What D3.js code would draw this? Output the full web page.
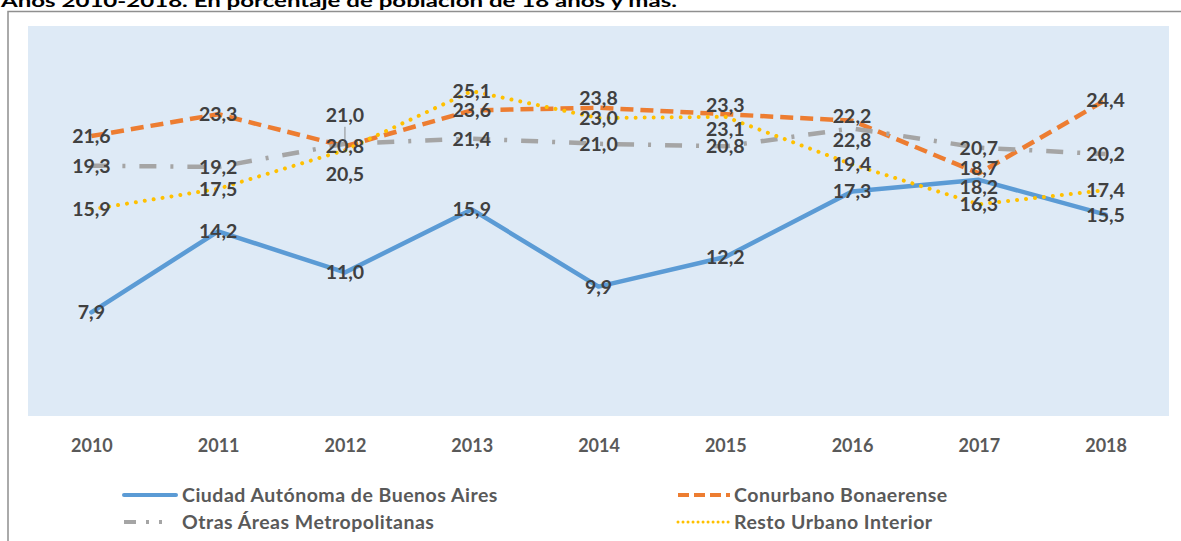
<!DOCTYPE html>
<html>
<head>
<meta charset="utf-8">
<script src="https://cdn.jsdelivr.net/npm/d3@7"></script>
<style>
  html, body { margin: 0; padding: 0; background: #ffffff; }
  svg { display: block; }
</style>
</head>
<body>
<svg id="chart" width="1181" height="541"></svg>
<script>
// ---------- data ----------
const years = ["2010", "2011", "2012", "2013", "2014", "2015", "2016", "2017", "2018"];
const seriesNames = ["Ciudad Autónoma de Buenos Aires", "Conurbano Bonaerense", "Otras Áreas Metropolitanas", "Resto Urbano Interior"];
const caba       = [7.9, 14.2, 11.0, 15.9, 9.9, 12.2, 17.3, 18.2, 15.5];
const conurbano  = [21.6, 23.3, 20.8, 23.6, 23.8, 23.3, 22.8, 18.7, 24.4];
const otras      = [19.3, 19.2, 21.0, 21.4, 21.0, 20.8, 22.2, 20.7, 20.2];
const resto      = [15.9, 17.5, 20.5, 25.1, 23.0, 23.1, 19.4, 16.3, 17.4];
const titleText = "Años 2010-2018. En porcentaje de población de 18 años y más.";

// label vertical nudges (px) per series, to mimic the reference placement
const labelNudgeCaba      = [0, 0, 0, 0, 0, 0, 0, 7, 0];
const labelNudgeConurbano = [0, 0, 0, 0, -10, -9, 19, -5, 0];
const labelNudgeOtras     = [0, 0, -29, 0, 0, 0, -12, 0, 0];
const labelNudgeResto     = [0, 0, 24, 0, 0, 12, 0, 0, 0];

// ---------- layout ----------
const svg = d3.select("#chart");
const plot = { left: 28, right: 1169, top: 26, bottom: 416 };

const x = d3.scalePoint().domain(years).range([plot.left, plot.right]).padding(0.5);
const y = d3.scaleLinear().domain([0, 30]).range([414, 28]);

const series = [
  { name: seriesNames[0], values: caba,      nudge: labelNudgeCaba,      color: "#5B9BD5", width: 4.5, dash: null,           cap: "round" },
  { name: seriesNames[1], values: conurbano, nudge: labelNudgeConurbano, color: "#ED7D31", width: 4.5, dash: "13,7",         cap: "butt" },
  { name: seriesNames[2], values: otras,     nudge: labelNudgeOtras,     color: "#A5A5A5", width: 4.5, dash: "17,14,3,14",   cap: "butt" },
  { name: seriesNames[3], values: resto,     nudge: labelNudgeResto,     color: "#FFC000", width: 4,   dash: "0.01,9",       cap: "round" }
];

// frame
svg.append("rect")
  .attr("x", 8).attr("y", 11.5).attr("width", 1200).attr("height", 600)
  .attr("fill", "none").attr("stroke", "#8f8f8f").attr("stroke-width", 1.5);

// title (clipped at top in the reference)
svg.append("text")
  .attr("x", 1).attr("y", 7)
  .attr("font-family", "Lato, 'Open Sans', sans-serif")
  .attr("font-weight", "bold").attr("font-size", 17)
  .attr("fill", "#000")
  .attr("textLength", 676).attr("lengthAdjust", "spacingAndGlyphs")
  .text(titleText);

// plot background
svg.append("rect")
  .attr("x", plot.left).attr("y", plot.top)
  .attr("width", plot.right - plot.left).attr("height", plot.bottom - plot.top)
  .attr("fill", "#DEEAF6");

// x axis labels
const xAxis = d3.axisBottom(x).tickSize(0).tickPadding(0);
const gx = svg.append("g").attr("transform", "translate(0,446)").call(xAxis);
gx.select(".domain").remove();
gx.selectAll("text")
  .attr("dy", "0.35em")
  .attr("font-family", "Lato, 'Open Sans', sans-serif")
  .attr("font-weight", "bold").attr("font-size", 18)
  .attr("fill", "#595959");

// lines
const line = d3.line().x((d, i) => x(years[i])).y(d => y(d));
series.forEach(s => {
  svg.append("path")
    .datum(s.values)
    .attr("d", line)
    .attr("fill", "none")
    .attr("stroke", s.color)
    .attr("stroke-width", s.width)
    .attr("stroke-linejoin", "round")
    .attr("stroke-linecap", s.cap)
    .attr("stroke-dasharray", s.dash);
});

// leader line for displaced label (Otras 2012)
series.forEach(s => {
  s.values.forEach((v, i) => {
    if (Math.abs(s.nudge[i]) > 25) {
      svg.append("line")
        .attr("x1", x(years[i])).attr("x2", x(years[i]))
        .attr("y1", y(v) + s.nudge[i] + 12).attr("y2", y(v) - 2)
        .attr("stroke", "#8c8c8c").attr("stroke-width", 1);
    }
  });
});

// data labels
const fmt = v => d3.format(".1f")(v).replace(".", ",");
series.forEach(s => {
  svg.append("g").selectAll("text")
    .data(s.values)
    .join("text")
    .attr("x", (d, i) => x(years[i]))
    .attr("y", (d, i) => y(d) + s.nudge[i])
    .attr("dy", "0.36em")
    .attr("text-anchor", "middle")
    .attr("font-family", "Lato, 'Open Sans', sans-serif")
    .attr("font-weight", "bold").attr("font-size", 19.5)
    .attr("fill", "#404040")
    .text(d => fmt(d));
});

// legend
const legendPos = [
  { lx: 124, ly: 495 }, { lx: 678, ly: 495 },
  { lx: 124, ly: 522 }, { lx: 678, ly: 522 }
];
series.forEach((s, i) => {
  const p = legendPos[i];
  const g = svg.append("g").attr("transform", `translate(${p.lx},${p.ly})`);
  const isOtras = i === 2;
  g.append("line")
    .attr("x1", 0).attr("x2", 52).attr("y1", 0).attr("y2", 0)
    .attr("stroke", s.color)
    .attr("stroke-width", i === 3 ? 3 : 4)
    .attr("stroke-linecap", s.cap)
    .attr("stroke-dasharray", isOtras ? "12,10,3,10,3,14" : (i === 1 ? "11,5" : (i === 3 ? "0.01,5" : null)));
  g.append("text")
    .attr("x", i % 2 === 0 ? 58 : 56).attr("y", 0).attr("dy", "0.35em")
    .attr("font-family", "Lato, 'Open Sans', sans-serif")
    .attr("font-weight", "bold").attr("font-size", 19.5)
    .attr("letter-spacing", 0.5)
    .attr("fill", "#595959")
    .text(s.name);
});
</script>
</body>
</html>
